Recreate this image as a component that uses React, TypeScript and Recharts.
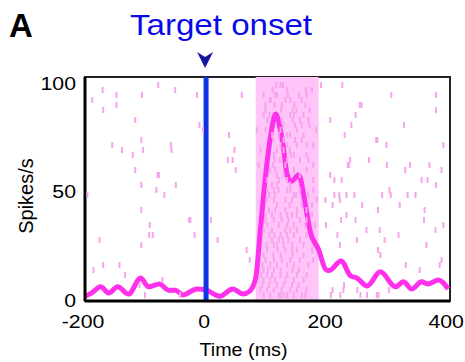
import React from "react";
import {
  ComposedChart,
  Line,
  Scatter,
  XAxis,
  YAxis,
  ReferenceArea,
  ReferenceLine,
} from "recharts";

// ---------- data ----------
const xTicks = [-200, 0, 200, 400];
const yTicks = [0, 50, 100];

// peri-stimulus time histogram (time ms, spikes/s)
const psthTimes = [
  -200, -190, -174, -161, -146, -128, -108, -95, -77, -62, -51, -38, -15, 0, 23,
  44, 61, 72, 82, 90, 98, 107, 115, 121, 127, 134, 141, 153, 164, 172, 186, 198,
  203, 223, 239, 249, 266, 288, 313, 326, 340, 356, 367, 384, 400,
];
const psthRates = [
  2.2, 3.5, 6.5, 3.7, 6.5, 3.2, 10.6, 6.5, 7.8, 5, 5, 2.8, 5.5, 5, 2.2,
  5.5, 3.2, 4.5, 10.6, 33.6, 56.7, 76.6, 86, 81, 72, 58, 55, 58, 44.4, 32, 23.6, 14.4,
  14, 18.4, 11.5, 10.6, 6.9, 13.4, 6.5, 8.8, 5.5, 8.8, 7.8, 9.7, 5.5,
];

// response window (ms)
const windowStart = 82;
const windowEnd = 186;
const onsetTime = 0;

// spike raster: one list of spike times (ms) per trial, trial 1 at the bottom
const rasterTrials: number[][] = [
  [-101, -43, 95, 106, 120, 123, 128, 134, 145, 158, 164, 206, 222, 255, 266, 282, 285],
  [90, 101, 112, 125, 139, 150, 166, 209, 227, 250, 302],
  [-110, 93, 104, 117, 128, 142, 153, 228],
  [-72, 95, 106, 114, 131, 145, 161],
  [-134, 91, 101, 109, 123, 134, 150, 166],
  [-186, 95, 102, 112, 123, 143, 153, 353],
  [-170, -143, 93, 106, 117, 134, 145, 169, 330, 386],
  [72, 98, 112, 125, 139, 155, 177, 389],
  [95, 111, 123, 143, 161, 288],
  [67, 101, 118, 131, 142, 150, 175, 284],
  [-107, 100, 112, 117, 128, 142, 161, 221, 364],
  [-176, 19, 109, 120, 127, 136, 155, 249, 295],
  [-94, -88, -19, 105, 113, 123, 134, 145, 166, 217, 318],
  [95, 109, 131, 139, 150, 265, 287, 379],
  [-93, 101, 120, 134, 145, 164, 180, 198, 392],
  [-28, -26, 8, 98, 112, 125, 136, 155, 166, 223, 247, 360],
  [98, 109, 123, 134, 142, 150, 175, 232],
  [-107, 104, 114, 131, 150, 166, 284, 361],
  [117, 138, 158, 175, 209, 258, 320],
  [100, 112, 131, 142, 183, 197, 221],
  [-196, -69, 104, 114, 145, 149, 169, 212, 220, 232, 245, 291, 305, 333, 346],
  [-82, 101, 112, 120, 134, 139, 155, 177, 303],
  [-107, -50, 109, 117, 139, 380],
  [101, 120, 134, 177, 212, 224, 356, 366],
  [-80, -78, 117, 128, 155, 205],
  [-117, 49, 106, 114, 145, 166, 329, 389],
  [87, 111, 131, 177, 234, 236, 299, 337, 369],
  [36, 44, 113, 122, 134, 155, 169, 238, 269],
  [-121, 112, 140, 145, 166],
  [-139, -104, -57, 47, 90, 117, 128, 138],
  [-155, -58, 123, 134, 150, 166, 177, 298, 392],
  [-107, 111, 128, 147, 158, 281, 283],
  [38, 109, 120, 134, 139, 161, 229],
  [-5, 84, 98, 123, 150, 182],
  [-11, 128, 147, 158, 171, 240, 327],
  [-117, 101, 125, 143, 155, 169, 205],
  [95, 105, 139, 145, 161, 247],
  [-170, 98, 124, 143, 149, 171, 380],
  [-148, 98, 113, 125, 146, 164, 254, 257],
  [-188, 105, 107, 131, 139, 158],
  [-148, -106, -15, 59, 95, 114, 117, 135, 154, 166, 306, 380],
  [-171, -51, 110, 134, 165, 175],
  [-79, 116, 123, 127, 190, 225],
];

// ---------- derived tables ----------
const psthData = psthTimes.map((t, i) => ({ t, v: psthRates[i] }));
const rasterData = rasterTrials.flatMap((spikes, i) =>
  spikes.map((t) => ({ t, trial: i + 1 }))
);

// ---------- style ----------
const FONT = "'Liberation Sans', Arial, sans-serif";
const PINK_LINE = "#ff30ec";
const RASTER = "#f7a4ee";
const SHADE = "#ffc4f8";
const ONSET_BLUE = "#0f33e6";
const TEXT_BLUE = "#0a0ae8";
const ARROW = "#14149e";

const XTick = (props: any) => {
  const { x, y, payload } = props;
  return (
    <g transform={`translate(${x - 2},${y + 27}) scale(1.12,1)`}>
      <text x={0} y={0} textAnchor="middle" fontSize={19} fontFamily={FONT} fill="#000">
        {payload.value}
      </text>
    </g>
  );
};

const YTick = (props: any) => {
  const { x, y, payload } = props;
  return (
    <g transform={`translate(${x - 9},${y + 6}) scale(1.12,1)`}>
      <text x={0} y={0} textAnchor="end" fontSize={19} fontFamily={FONT} fill="#000">
        {payload.value}
      </text>
    </g>
  );
};

const RasterTick = (props: any) => {
  const { cx, cy } = props;
  if (cx == null || cy == null) return null;
  return <rect x={cx - 1} y={cy - 3} width={2} height={6} fill={RASTER} />;
};

const OnsetLabel = (props: any) => {
  const vb = props.viewBox || {};
  const x = vb.x ?? 0;
  const y = vb.y ?? 0;
  const tipY = y - 9;
  return (
    <g>
      <path
        d={`M${x - 1},${tipY} L${x - 9},${tipY - 16} L${x - 1},${tipY - 11} L${x + 7},${tipY - 16} Z`}
        fill={ARROW}
      />
      <text
        x={x + 15}
        y={y - 42}
        textAnchor="middle"
        fontSize={30}
        fontFamily={FONT}
        fill={TEXT_BLUE}
        textLength={182}
        lengthAdjust="spacingAndGlyphs"
      >
        Target onset
      </text>
    </g>
  );
};

const XLabel = (props: any) => {
  const vb = props.viewBox || {};
  const cx = vb.x + vb.width / 2 - 24;
  return (
    <text
      x={cx}
      y={vb.y + 55}
      textAnchor="middle"
      fontSize={18}
      fontFamily={FONT}
      fill="#000"
      textLength={88}
      lengthAdjust="spacingAndGlyphs"
    >
      Time (ms)
    </text>
  );
};

const YLabel = (props: any) => {
  const vb = props.viewBox || {};
  const cx = 26;
  const cy = vb.y + vb.height / 2 + 7;
  return (
    <text
      x={cx}
      y={cy}
      transform={`rotate(-90, ${cx}, ${cy})`}
      textAnchor="middle"
      dominantBaseline="central"
      fontSize={20}
      fontFamily={FONT}
      fill="#000"
    >
      Spikes/s
    </text>
  );
};

export default function App() {
  return (
    <div style={{ position: "absolute", left: 0, top: 0, width: 465, height: 362 }}>
      <ComposedChart
        width={465}
        height={362}
        margin={{ top: 77, right: 15, bottom: 0, left: 8 }}
      >
        <XAxis
          type="number"
          dataKey="t"
          domain={[-200, 403]}
          ticks={xTicks}
          allowDataOverflow
          height={61}
          tickSize={0}
          tickMargin={0}
          tickLine={false}
          axisLine={{ stroke: "#000", strokeWidth: 3 }}
          tick={<XTick />}
          label={<XLabel />}
        />
        <YAxis
          type="number"
          domain={[0, 103]}
          ticks={yTicks}
          allowDataOverflow
          width={77}
          tickSize={0}
          tickMargin={0}
          tickLine={false}
          axisLine={{ stroke: "#000", strokeWidth: 3 }}
          tick={<YTick />}
          label={<YLabel />}
        />
        <YAxis yAxisId="trial" dataKey="trial" type="number" domain={[-0.2, 44.6]} hide />
        <ReferenceArea
          x1={-200}
          x2={403}
          y1={0}
          y2={103}
          fill="none"
          stroke="#222"
          strokeWidth={2}
        />
        <ReferenceArea x1={windowStart} x2={windowEnd} y1={0} y2={103} fill={SHADE} fillOpacity={1} stroke="none" />
        <Scatter
          data={rasterData}
          yAxisId="trial"
          dataKey="trial"
          shape={<RasterTick />}
          isAnimationActive={false}
        />
        <Line
          data={psthData}
          dataKey="v"
          type="monotone"
          stroke={PINK_LINE}
          strokeWidth={5}
          dot={false}
          activeDot={false}
          isAnimationActive={false}
        />
        <ReferenceLine
          x={onsetTime}
          stroke={ONSET_BLUE}
          strokeWidth={5}
          label={<OnsetLabel />}
        />
        <text x={9} y={37} fontSize={33} fontWeight="bold" fontFamily={FONT} fill="#000">
          A
        </text>
      </ComposedChart>
    </div>
  );
}
